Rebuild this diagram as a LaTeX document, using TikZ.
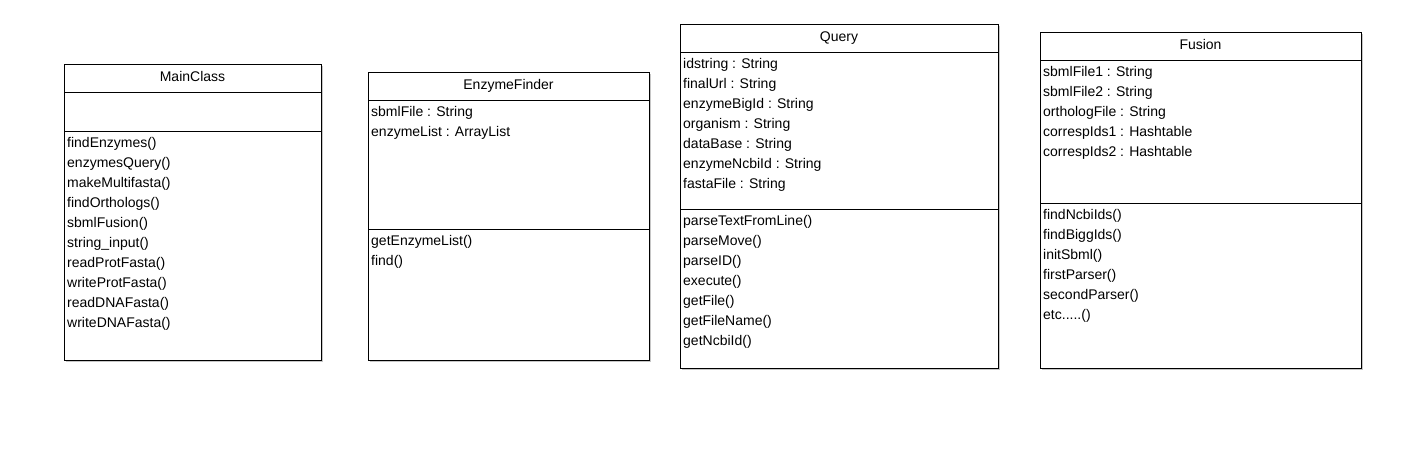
\documentclass[tikz,border=0pt]{standalone}
\usepackage{fontspec}
\setmainfont{Liberation Sans}
\usepackage{tikz}
\usetikzlibrary{positioning, shadows}

\begin{document}
\begin{tikzpicture}[x=1pt, y=-1pt,
    box/.style={draw, fill=white, inner sep=0pt, outer sep=0pt, line width=0.8pt,
        drop shadow={shadow xshift=1.5pt, shadow yshift=-1.5pt, fill=gray!45, opacity=1}},
    classtitle/.style={box, minimum height=28pt, text height=9pt, text depth=3pt,
        font=\fontsize{14}{20}\selectfont},
    compartment/.style={box, below=0pt of #1},
    members/.style={below right=6pt and 3pt of #1, inner sep=0pt, align=left,
        font=\fontsize{14}{20}\selectfont}]

    \useasboundingbox (0,0) rectangle (1424,472);

    % MainClass
    \node [classtitle, minimum width=257pt, anchor=north west] (main) at (64,64) {MainClass};
    \node [compartment=main, minimum width=257pt, minimum height=39pt] (mainattr) {};
    \node [compartment=mainattr, minimum width=257pt, minimum height=229pt] (mainops) {};
    \node [members=mainops.north west] (mainopstext) {findEnzymes()\\enzymesQuery()\\makeMultifasta()\\findOrthologs()\\sbmlFusion()\\string\_input()\\readProtFasta()\\writeProtFasta()\\readDNAFasta()\\writeDNAFasta()};

    % EnzymeFinder
    \node [classtitle, minimum width=281pt, anchor=north west] (finder) at (368,72) {EnzymeFinder};
    \node [compartment=finder, minimum width=281pt, minimum height=129pt] (finderattr) {};
    \node [compartment=finderattr, minimum width=281pt, minimum height=131pt] (finderops) {};
    \node [members=finderattr.north west] (finderattrtext) {sbmlFile : String\\enzymeList : ArrayList};
    \node [members=finderops.north west] (finderopstext) {getEnzymeList()\\find()};

    % Query
    \node [classtitle, minimum width=318pt, anchor=north west] (query) at (680,24) {Query};
    \node [compartment=query, minimum width=318pt, minimum height=157pt] (queryattr) {};
    \node [compartment=queryattr, minimum width=318pt, minimum height=159pt] (queryops) {};
    \node [members=queryattr.north west] (queryattrtext) {idstring : String\\finalUrl : String\\enzymeBigId : String\\organism : String\\dataBase : String\\enzymeNcbiId : String\\fastaFile : String};
    \node [members=queryops.north west] (queryopstext) {parseTextFromLine()\\parseMove()\\parseID()\\execute()\\getFile()\\getFileName()\\getNcbiId()};

    % Fusion
    \node [classtitle, minimum width=321pt, anchor=north west] (fusion) at (1040,32) {Fusion};
    \node [compartment=fusion, minimum width=321pt, minimum height=143pt] (fusionattr) {};
    \node [compartment=fusionattr, minimum width=321pt, minimum height=165pt] (fusionops) {};
    \node [members=fusionattr.north west] (fusionattrtext) {sbmlFile1 : String\\sbmlFile2 : String\\orthologFile : String\\correspIds1 : Hashtable\\correspIds2 : Hashtable};
    \node [members=fusionops.north west] (fusionopstext) {findNcbiIds()\\findBiggIds()\\initSbml()\\firstParser()\\secondParser()\\etc.....()};

\end{tikzpicture}
\end{document}
